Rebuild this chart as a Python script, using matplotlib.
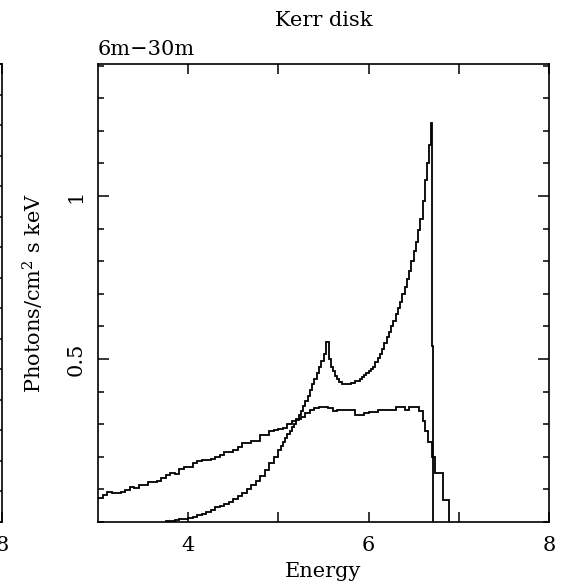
import matplotlib
matplotlib.use("Agg")
import matplotlib.pyplot as plt
from matplotlib.ticker import MultipleLocator, FixedLocator

plt.rcParams['font.family'] = ['DejaVu Serif']
plt.rcParams['mathtext.fontset'] = 'dejavuserif'

# ---------------- data ----------------
# broad, flat-topped line profile (bin edges in keV, flux per bin)
energy_a = [2.98, 3.05, 3.10, 3.15, 3.20, 3.25, 3.30, 3.35, 3.40, 3.45, 3.50,
            3.55, 3.60, 3.65, 3.70, 3.75, 3.80, 3.85, 3.90, 3.95, 4.00,
            4.05, 4.10, 4.15, 4.20, 4.25, 4.30, 4.35, 4.40, 4.45, 4.50,
            4.55, 4.60, 4.65, 4.70, 4.75, 4.80, 4.85, 4.90, 4.95, 5.00,
            5.05, 5.10, 5.15, 5.20, 5.25, 5.30, 5.35, 5.40, 5.45, 5.50,
            5.55, 5.60, 5.65, 5.70, 5.75, 5.80, 5.85, 5.90, 5.95, 6.00,
            6.05, 6.10, 6.15, 6.20, 6.25, 6.30, 6.35, 6.40, 6.45, 6.50,
            6.56, 6.60, 6.63, 6.66, 6.70, 6.74, 6.82, 6.89]
flux_a = [0.074, 0.083, 0.092, 0.090, 0.090, 0.092, 0.098, 0.106, 0.104, 0.112,
          0.113, 0.124, 0.124, 0.126, 0.135, 0.144, 0.151, 0.148, 0.162, 0.170,
          0.168, 0.180, 0.186, 0.190, 0.190, 0.192, 0.200, 0.205, 0.216, 0.216,
          0.221, 0.230, 0.241, 0.241, 0.250, 0.250, 0.267, 0.267, 0.280, 0.282,
          0.285, 0.288, 0.300, 0.310, 0.315, 0.323, 0.334, 0.343, 0.350, 0.354,
          0.354, 0.350, 0.341, 0.344, 0.344, 0.344, 0.344, 0.328, 0.328, 0.335,
          0.338, 0.338, 0.343, 0.343, 0.343, 0.343, 0.352, 0.352, 0.343, 0.354,
          0.354, 0.340, 0.310, 0.280, 0.245, 0.200, 0.150, 0.067]

# peaked line profile
energy_b = [3.75, 3.80, 3.85, 3.90, 3.95, 4.00, 4.05, 4.10, 4.15, 4.20, 4.25,
            4.30, 4.35, 4.40, 4.45, 4.50, 4.55, 4.60, 4.65, 4.70, 4.75,
            4.80, 4.85, 4.90, 4.95, 5.00, 5.025, 5.05, 5.075, 5.10, 5.125,
            5.15, 5.175, 5.20, 5.225, 5.25, 5.275, 5.30, 5.325, 5.35, 5.375,
            5.40, 5.425, 5.45, 5.475, 5.50, 5.525, 5.565, 5.58, 5.60, 5.625,
            5.65, 5.675, 5.70, 5.75, 5.80, 5.85, 5.90, 5.925, 5.95, 5.975,
            6.00, 6.025, 6.05, 6.075, 6.10, 6.125, 6.15, 6.175, 6.20, 6.225,
            6.25, 6.275, 6.30, 6.325, 6.35, 6.375, 6.40, 6.425, 6.45, 6.475,
            6.50, 6.525, 6.55, 6.575, 6.60, 6.625, 6.65, 6.67, 6.69, 6.708,
            6.718]
flux_b = [0.002, 0.004, 0.006, 0.008, 0.010, 0.012, 0.016, 0.021, 0.026, 0.030,
          0.038, 0.045, 0.050, 0.056, 0.062, 0.070, 0.080, 0.090, 0.102, 0.112,
          0.126, 0.142, 0.160, 0.180, 0.200, 0.222, 0.233, 0.245, 0.258, 0.270,
          0.280, 0.290, 0.300, 0.313, 0.327, 0.340, 0.355, 0.370, 0.388, 0.405,
          0.422, 0.440, 0.458, 0.475, 0.495, 0.515, 0.553, 0.500, 0.476, 0.462,
          0.448, 0.438, 0.430, 0.424, 0.423, 0.427, 0.434, 0.440, 0.446, 0.452,
          0.456,
          0.462, 0.470, 0.476, 0.490, 0.503, 0.515, 0.530, 0.548, 0.566, 0.583,
          0.600, 0.618, 0.638, 0.655, 0.675, 0.700, 0.720, 0.745, 0.770, 0.800,
          0.830, 0.860, 0.895, 0.930, 0.985, 1.050, 1.100, 1.156, 1.225, 0.540]

x_ticks = [4, 5, 6, 7, 8]
x_tick_labels = ["4", "", "6", "", "8"]
y_major = [0.5, 1.0]
y_major_labels = ["0.5", "1"]

title_text = "Kerr disk"
panel_text = "6m\u221230m"
x_label = "Energy"
y_label = "Photons/cm$^2$ s keV"

# ---------------- figure ----------------
W, H = 566, 583
fig = plt.figure(figsize=(W / 100, H / 100), dpi=100)

L, R, T, B = 98, 549, 64, 522
ax = fig.add_axes([L / W, 1 - B / H, (R - L) / W, (B - T) / H])

# neighbouring (mostly cropped) panel on the left
ax0 = fig.add_axes([(2 - (R - L)) / W, 1 - B / H, (R - L) / W, (B - T) / H])
ax0.set_xlim(3, 8)
ax0.set_ylim(0, 1.5)
ax0.xaxis.set_major_locator(FixedLocator(x_ticks))
ax0.set_xticklabels(x_tick_labels)
ax0.yaxis.set_major_locator(MultipleLocator(0.1))
ax0.set_yticklabels([])
ax0.tick_params(direction='in', top=True, right=True, length=7, width=1.1,
                labelsize=15, pad=10)

lw = 1.3
ax.stairs(flux_a, energy_a, baseline=0, color='black', lw=lw)
ax.stairs(flux_b, energy_b, baseline=0, color='black', lw=lw)

ax.set_xlim(3, 8)
ax.set_ylim(0, 1.405)
ax.xaxis.set_major_locator(FixedLocator(x_ticks))
ax.set_xticklabels(x_tick_labels)
ax.yaxis.set_major_locator(FixedLocator(y_major))
ax.set_yticklabels(y_major_labels)
ax.yaxis.set_minor_locator(MultipleLocator(0.1))

for a in (ax, ax0):
    for s in a.spines.values():
        s.set_linewidth(1.2)

ax.tick_params(axis='both', which='both', direction='in', top=True, right=True,
               width=1.1, labelsize=15)
ax.tick_params(axis='x', which='major', length=7.5, pad=10)
ax.tick_params(axis='y', which='major', length=8, pad=9, labelrotation=90)
ax.tick_params(axis='y', which='minor', length=4.5)
for lab in ax.get_yticklabels():
    lab.set_va('center')

ax.set_xlabel(x_label, fontsize=15)
ax.xaxis.set_label_coords(0.5, -0.088)
ax.set_ylabel(y_label, fontsize=15)
ax.yaxis.set_label_coords(-0.115, 0.5)

ax.set_title(title_text, fontsize=15, pad=27)
ax.text(0.0, 1.0197, panel_text, transform=ax.transAxes, ha='left',
        va='baseline', fontsize=15)

fig.savefig("out.png", dpi=100)
